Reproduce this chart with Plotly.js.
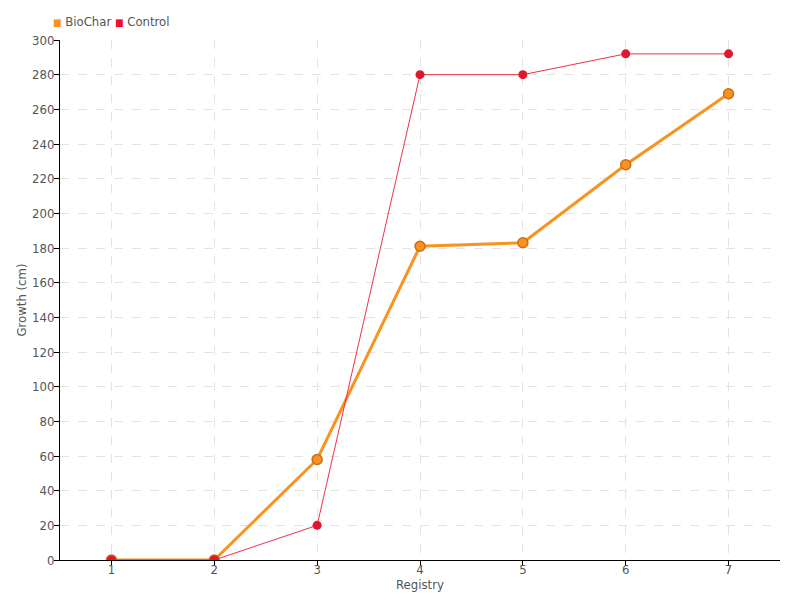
<!DOCTYPE html>
<html><head><meta charset="utf-8">
<script src="https://cdn.plot.ly/plotly-3.0.1.min.js"></script>
<style>body{margin:0}#c{width:800px;height:600px}</style></head>
<body><div id="c"></div>
<script>
const registry = [1, 2, 3, 4, 5, 6, 7];
const biochar = [0, 0, 58, 181, 183, 228, 269];
const control = [0, 0, 20, 280, 280, 292, 292];
const yTicks = [0,20,40,60,80,100,120,140,160,180,200,220,240,260,280,300];
const seriesNames = ['BioChar', 'Control'];
const seriesColors = ['#f7931e', '#f0102d'];
const fontFam = '"DejaVu Sans Condensed", sans-serif';
const traces = [
  {x: registry, y: biochar, mode: 'lines+markers', name: seriesNames[0],
   line: {color: '#f7931e', width: 3},
   marker: {color: '#f7931e', size: 10, line: {color: '#c8701a', width: 1.5}}},
  {x: registry, y: control, mode: 'lines+markers', name: seriesNames[1],
   line: {color: '#f0304a', width: 1},
   marker: {color: '#e0182d', size: 9}}
];
const legendX = [-0.0125, 0.074];
const annotations = seriesNames.map((n, i) => ({
  xref: 'paper', yref: 'paper', x: legendX[i], y: 1.035, xanchor: 'left', yanchor: 'middle',
  showarrow: false, text: '<span style="color:' + seriesColors[i] + ';font-size:10px">■</span> ' + n,
  font: {family: fontFam, size: 13, color: '#555'}
}));
const layout = {
  width: 800, height: 600,
  margin: {l: 60, r: 20, t: 40, b: 40},
  paper_bgcolor: '#fff', plot_bgcolor: '#fff',
  font: {family: fontFam, color: '#555', size: 13},
  showlegend: false,
  annotations: annotations,
  xaxis: {range: [0.5, 7.5], tickvals: registry, ticktext: registry.map(String),
          showgrid: true, gridcolor: '#e3e3e3', griddash: 'dash', zeroline: false,
          showline: true, linecolor: '#000', linewidth: 1, ticks: 'outside', ticklen: 5, tickcolor: '#000',
          ticklabelstandoff: -8,
          tickfont: {size: 13, color: '#555'},
          title: {text: 'Registry', standoff: 0, font: {size: 13, color: '#555'}}},
  yaxis: {range: [0, 300], tickvals: yTicks, showgrid: true, gridcolor: '#e3e3e3', griddash: 'dash',
          zeroline: false, showline: true, linecolor: '#000', linewidth: 1,
          ticks: 'outside', ticklen: 5, tickcolor: '#000', tickfont: {size: 13, color: '#555'},
          ticklabelstandoff: -3,
          title: {text: 'Growth (cm)', standoff: 2, font: {size: 13, color: '#555'}}}
};
Plotly.newPlot('c', traces, layout, {displayModeBar: false});
</script></body></html>
